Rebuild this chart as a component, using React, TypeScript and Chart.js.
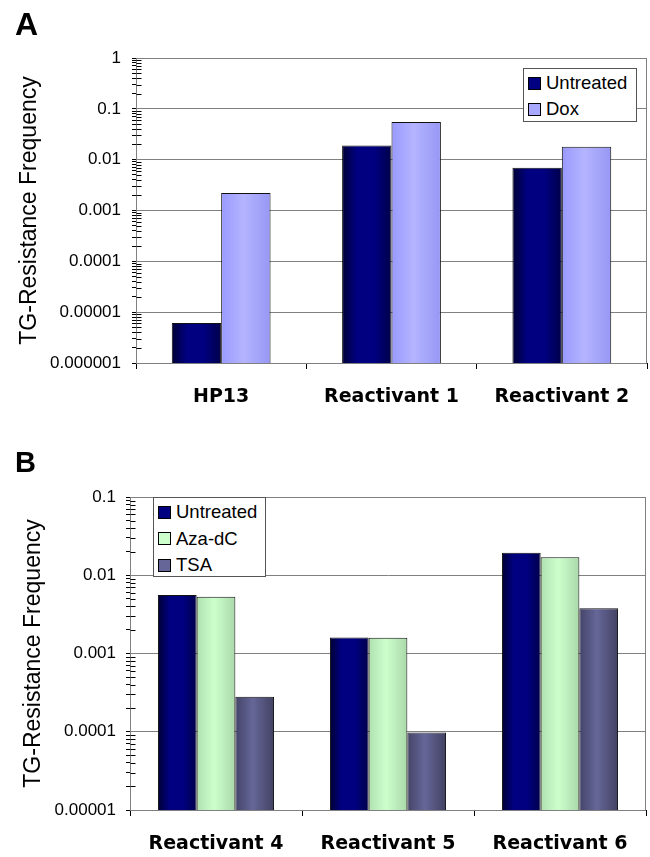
import React, { useEffect, useRef } from 'react';
import { Chart, registerables } from 'chart.js';

Chart.register(...registerables);

// ---------- Data ----------
const categoriesA = ['HP13', 'Reactivant 1', 'Reactivant 2'];
const seriesLabelsA = ['Untreated', 'Dox'];
const untreatedA = [0.0000061, 0.019, 0.0069];
const doxA = [0.0022, 0.055, 0.018];
const yTicksA = [0.000001, 0.00001, 0.0001, 0.001, 0.01, 0.1, 1];

const categoriesB = ['Reactivant 4', 'Reactivant 5', 'Reactivant 6'];
const seriesLabelsB = ['Untreated', 'Aza-dC', 'TSA'];
const untreatedB = [0.0056, 0.0016, 0.0194];
const azaB = [0.0053, 0.00159, 0.017];
const tsaB = [0.00028, 0.000098, 0.0038];
const yTicksB = [0.00001, 0.0001, 0.001, 0.01, 0.1];

const minorMultipliers = [2, 3, 4, 5, 6, 7, 8, 9];

// ---------- Styles ----------
const FONT = "'Liberation Sans', Arial, sans-serif";
const BOLD_X_FONT = "'DejaVu Sans', 'Liberation Sans', sans-serif";

const swatchColors: Record<string, string> = {
  Untreated: '#000080',
  Dox: '#a8a8ff',
  'Aza-dC': '#ccffcc',
  TSA: '#666699',
};

const gradientStops: Record<string, [number, string][]> = {
  Untreated: [[0, '#000035'], [0.3, '#000080'], [0.65, '#000080'], [1, '#00004a']],
  Dox: [[0, '#9999ff'], [0.45, '#b4b4ff'], [1, '#9797f5']],
  'Aza-dC': [[0, '#b0e0b0'], [0.45, '#ccffcc'], [1, '#aad8aa']],
  TSA: [[0, '#444468'], [0.45, '#666699'], [1, '#424262']],
};

const isDecade = (v: number) => {
  const l = Math.log10(v);
  return Math.abs(l - Math.round(l)) < 1e-9;
};
const formatDecade = (v: number) => {
  const e = Math.round(Math.log10(v));
  return e >= 0 ? String(Math.pow(10, e)) : Math.pow(10, e).toFixed(-e);
};
const buildLogTicks = (decades: number[]) => {
  const out: number[] = [];
  decades.forEach((d, i) => {
    out.push(d);
    if (i < decades.length - 1) minorMultipliers.forEach((m) => out.push(d * m));
  });
  return out;
};

const decorPlugin = {
  id: 'decor',
  beforeDatasetsDraw(chart: any) {
    const ctx = chart.ctx;
    const a = chart.chartArea;
    ctx.save();
    ctx.strokeStyle = '#808080';
    ctx.lineWidth = 1;
    ctx.strokeRect(Math.round(a.left) + 0.5, Math.round(a.top) + 0.5, Math.round(a.right - a.left) - 1, Math.round(a.bottom - a.top));
    ctx.restore();
    chart.data.datasets.forEach((ds: any, i: number) => {
      const meta = chart.getDatasetMeta(i);
      const stops = gradientStops[ds.label];
      meta.data.forEach((el: any) => {
        const { x, width } = el.getProps(['x', 'width'], true);
        const g = ctx.createLinearGradient(x - width / 2, 0, x + width / 2, 0);
        stops.forEach(([o, c]) => g.addColorStop(o, c));
        el.options = { ...el.options, backgroundColor: g };
      });
    });
  },
  afterDraw(chart: any) {
    const ctx = chart.ctx;
    const y = chart.scales.y;
    const x0 = Math.round(chart.chartArea.left) + 0.5;
    ctx.save();
    ctx.strokeStyle = '#000';
    ctx.lineWidth = 1;
    y.ticks.forEach((t: any) => {
      if (isDecade(t.value)) return;
      const py = Math.round(y.getPixelForValue(t.value)) + 0.5;
      ctx.beginPath();
      ctx.moveTo(x0, py);
      ctx.lineTo(x0 + 5, py);
      ctx.stroke();
    });
    ctx.restore();
  },
};

function makeConfig(p: {
  categories: string[];
  labels: string[];
  series: number[][];
  decades: number[];
  yWidth: number;
  xHeight: number;
  padTop: number;
  padRight: number;
  titlePad: number;
  tickPad: number;
  catPct: number;
}) {
  return {
    type: 'bar',
    data: {
      labels: p.categories,
      datasets: p.series.map((s, i) => ({
        label: p.labels[i],
        data: s,
        backgroundColor: swatchColors[p.labels[i]],
        borderColor: '#111',
        borderWidth: 1,
        categoryPercentage: p.catPct,
        barPercentage: 1,
      })),
    },
    options: {
      responsive: false,
      animation: false,
      events: [],
      layout: { padding: { top: p.padTop, right: p.padRight, left: 0, bottom: 0 } },
      plugins: { legend: { display: false }, tooltip: { enabled: false }, title: { display: false } },
      scales: {
        x: {
          grid: { drawOnChartArea: false, drawTicks: true, tickLength: 6, color: '#000', offset: true },
          border: { color: '#000', width: 1 },
          ticks: { color: '#000', font: { family: BOLD_X_FONT, size: 19, weight: 'bold' }, padding: 17, maxRotation: 0, autoSkip: false },
          afterFit: (s: any) => { s.height = p.xHeight; },
        },
        y: {
          type: 'logarithmic',
          min: p.decades[0],
          max: p.decades[p.decades.length - 1],
          afterBuildTicks: (s: any) => { s.ticks = buildLogTicks(p.decades).map((v) => ({ value: v })); },
          afterFit: (s: any) => { s.width = p.yWidth; },
          grid: {
            color: (c: any) => (c.tick && isDecade(c.tick.value) ? '#808080' : 'rgba(0,0,0,0)'),
            tickColor: '#000',
            tickLength: 4,
            lineWidth: 1,
          },
          border: { color: '#000', width: 1 },
          ticks: {
            color: '#000',
            autoSkip: false,
            padding: p.tickPad,
            font: { family: FONT, size: 17 },
            callback: (v: any) => (isDecade(Number(v)) ? formatDecade(Number(v)) : ''),
          },
          title: {
            display: true,
            text: 'TG-Resistance Frequency',
            color: '#000',
            font: { family: FONT, size: 23 },
            padding: { top: p.titlePad, bottom: 0 },
          },
        },
      },
    },
    plugins: [decorPlugin],
  };
}

function ChartCanvas({ top, height, config }: { top: number; height: number; config: any }) {
  const ref = useRef<HTMLCanvasElement | null>(null);
  useEffect(() => {
    if (!ref.current) return;
    const chart = new Chart(ref.current, config);
    return () => chart.destroy();
  }, []);
  return (
    <canvas
      ref={ref}
      width={650}
      height={height}
      style={{ position: 'absolute', left: 0, top, width: 650, height, display: 'block' }}
    />
  );
}

function Legend({ labels, left, top, width, height, rowH }: { labels: string[]; left: number; top: number; width: number; height: number; rowH: number }) {
  return (
    <div
      style={{
        position: 'absolute', left, top, width, height, boxSizing: 'border-box',
        border: '1px solid #555', background: '#fff', paddingTop: 1, paddingLeft: 4,
        fontFamily: FONT, fontSize: 18.5, color: '#000',
      }}
    >
      {labels.map((l) => (
        <div key={l} style={{ height: rowH, lineHeight: `${rowH}px`, display: 'flex', alignItems: 'center', whiteSpace: 'nowrap' }}>
          <span style={{ display: 'inline-block', width: 13, height: 13, boxSizing: 'border-box', border: '1px solid #000', background: swatchColors[l], marginRight: 5 }} />
          <span>{l}</span>
        </div>
      ))}
    </div>
  );
}

const configA = makeConfig({
  categories: categoriesA, labels: seriesLabelsA, series: [untreatedA, doxA], decades: yTicksA,
  yWidth: 136, xHeight: 57, padTop: 58, padRight: 3, titlePad: 16, tickPad: 11, catPct: 0.58,
});
const configB = makeConfig({
  categories: categoriesB, labels: seriesLabelsB, series: [untreatedB, azaB, tsaB], decades: yTicksB,
  yWidth: 130, xHeight: 47, padTop: 77, padRight: 4, titlePad: 20, tickPad: 10, catPct: 0.675,
});

export default function App() {
  return (
    <div style={{ position: 'absolute', left: 0, top: 0, width: 650, height: 857, background: '#fff', overflow: 'hidden' }}>
      <ChartCanvas top={0} height={420} config={configA} />
      <ChartCanvas top={420} height={437} config={configB} />
      <div style={{ position: 'absolute', left: 15, top: 8, font: `bold 32px ${FONT}`, lineHeight: '32px', color: '#000' }}>A</div>
      <div style={{ position: 'absolute', left: 15, top: 448, font: `bold 29px ${FONT}`, lineHeight: '29px', color: '#000' }}>B</div>
      <Legend labels={seriesLabelsA} left={523} top={68} width={114} height={54} rowH={26} />
      <Legend labels={seriesLabelsB} left={153} top={497} width={113} height={80} rowH={26.5} />
    </div>
  );
}
